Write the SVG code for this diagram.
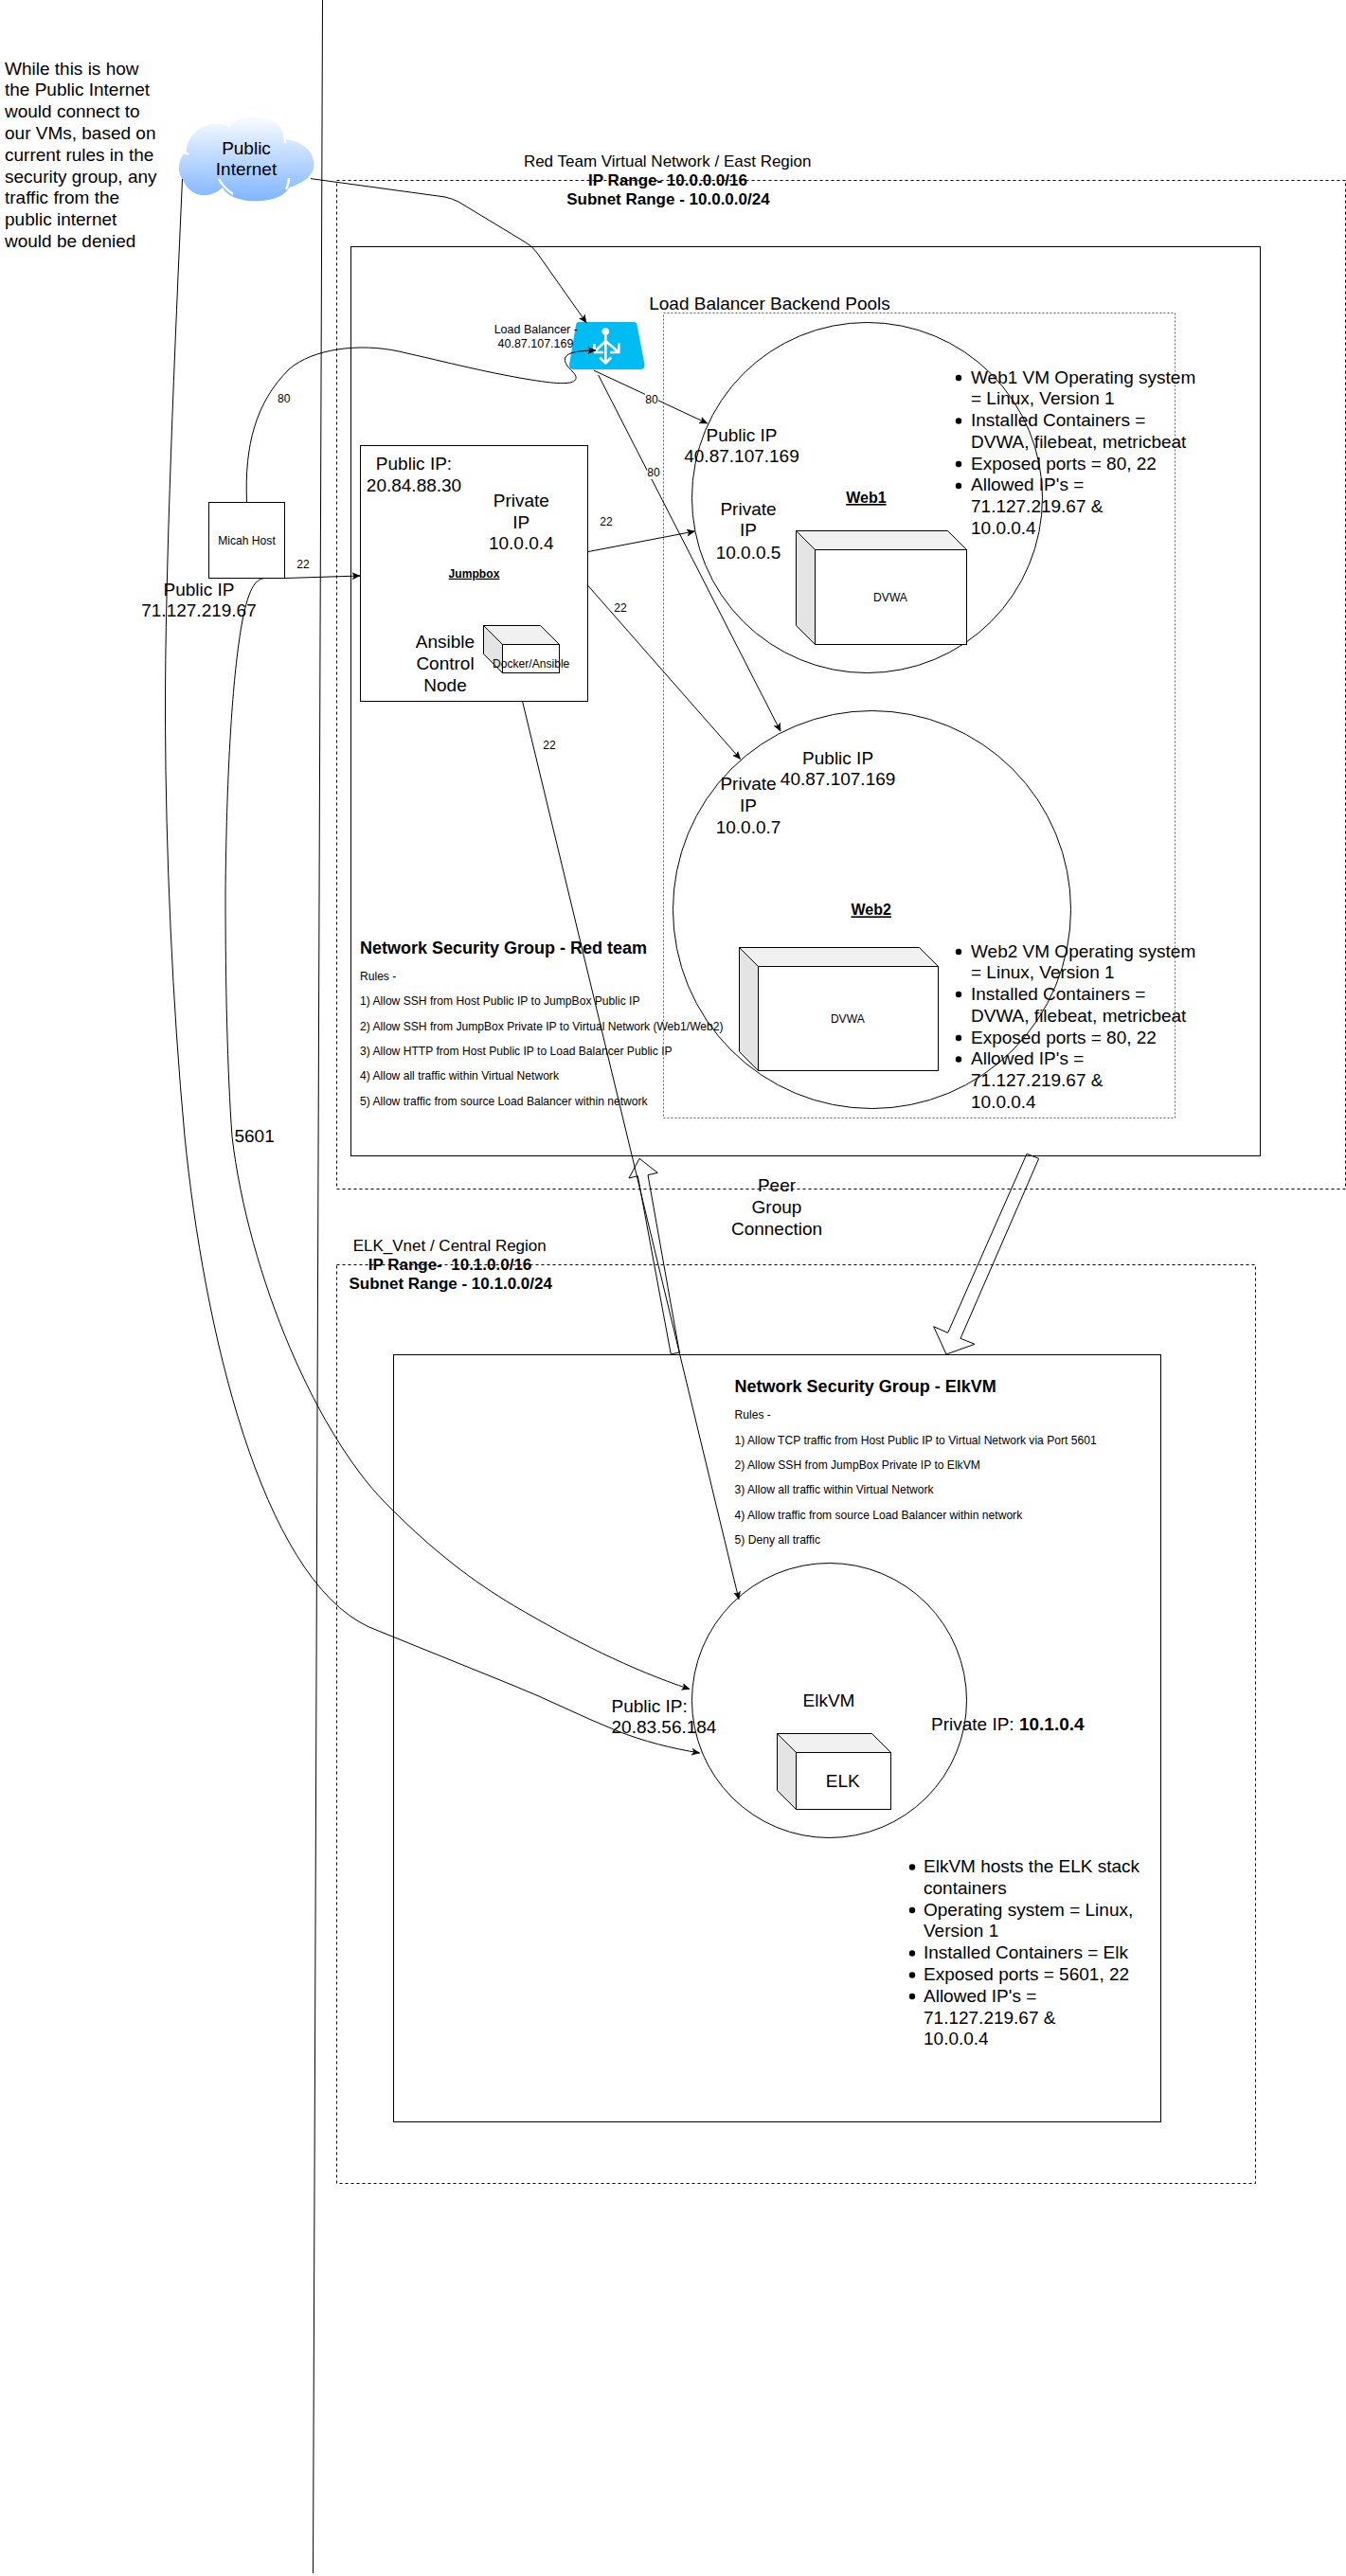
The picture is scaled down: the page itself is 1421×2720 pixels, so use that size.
<svg xmlns="http://www.w3.org/2000/svg" width="1421" height="2720" viewBox="0 0 1421 2720">
<style>
text{font-family:"Liberation Sans",Arial,sans-serif;fill:#000;white-space:pre}
.t19{font-size:19px}.t17{font-size:17px}.t12{font-size:12.1px}.t125{font-size:12.5px}.c{text-anchor:middle}
.b{font-weight:bold}.u{text-decoration:underline}.h18{font-size:18px;font-weight:bold}.h16{font-size:16px;font-weight:bold;text-decoration:underline}
.box{fill:none;stroke:#000;stroke-width:1}
.dash{fill:none;stroke:#000;stroke-width:1;stroke-dasharray:3 3}
.pool{fill:none;stroke:#666;stroke-width:1;stroke-dasharray:2 2}
.ln{fill:none;stroke:#000;stroke-width:1}
.arr{marker-end:url(#a)}
.front{fill:#fff;stroke:#000}.top{fill:#f1f1f1;stroke:#000}.side{fill:#e4e4e4;stroke:#000}
.ic{fill:none;stroke:#fff;stroke-width:2.6}
.nt{fill:none;stroke:#fff;stroke-width:2.4}
</style>
<defs>
<marker id="a" markerUnits="userSpaceOnUse" markerWidth="9" markerHeight="8" refX="8" refY="4" orient="auto"><path d="M0 .5L8 4L0 7.5L2 4Z" fill="#000" stroke="#000" stroke-width=".5"/></marker>
<linearGradient id="g" gradientUnits="userSpaceOnUse" x1="0" y1="122" x2="0" y2="212"><stop offset="0" stop-color="#fbfdff"/><stop offset="1" stop-color="#7fb5ff"/></linearGradient>
</defs>
<rect width="1421" height="2720" fill="#fff"/>

<g id="red-vnet"><rect class="dash" x="355.500" y="190.500" width="1065" height="1065"/>
<text class="t17 c" x="704.700" y="176">Red Team Virtual Network / East Region</text>
<text class="t17 c b" x="705" y="196">IP Range- 10.0.0.0/16</text>
<text class="t17 c b" x="705.400" y="215.700">Subnet Range - 10.0.0.0/24</text></g>

<g id="red-nsg"><rect class="box" x="370.500" y="260.500" width="960" height="960"/>
<text class="h18" x="380" y="1007">Network Security Group - Red team</text>
<text class="t12" x="380" y="1035">Rules -</text>
<text class="t12" x="380" y="1061">1) Allow SSH from Host Public IP to JumpBox Public IP</text>
<text class="t12" x="380" y="1088">2) Allow SSH from JumpBox Private IP to Virtual Network (Web1/Web2)</text>
<text class="t12" x="380" y="1114">3) Allow HTTP from Host Public IP to Load Balancer Public IP</text>
<text class="t12" x="380" y="1140">4) Allow all traffic within Virtual Network</text>
<text class="t12" x="380" y="1167">5) Allow traffic from source Load Balancer within network</text></g>

<g id="backend-pool"><rect class="pool" x="700.500" y="330.500" width="540" height="850"/>
<text class="t19 c" x="812.500" y="327">Load Balancer Backend Pools</text></g>

<g id="elk-vnet"><rect class="dash" x="355.500" y="1335.500" width="970" height="970"/>
<text class="t17 c" x="474.700" y="1321.400">ELK_Vnet / Central Region</text>
<text class="t17 c b" x="475" y="1341">IP Range-  10.1.0.0/16</text>
<text class="t17 c b" x="475.700" y="1360.700">Subnet Range - 10.1.0.0/24</text></g>

<g id="elk-nsg"><rect class="box" x="415.500" y="1430.500" width="810" height="810"/>
<text class="h18" x="775.600" y="1470">Network Security Group - ElkVM</text>
<text class="t12" x="775.600" y="1498">Rules -</text>
<text class="t12" x="775.600" y="1524.500">1) Allow TCP traffic from Host Public IP to Virtual Network via Port 5601</text>
<text class="t12" x="775.600" y="1551">2) Allow SSH from JumpBox Private IP to ElkVM</text>
<text class="t12" x="775.600" y="1577">3) Allow all traffic within Virtual Network</text>
<text class="t12" x="775.600" y="1603.500">4) Allow traffic from source Load Balancer within network</text>
<text class="t12" x="775.600" y="1630">5) Deny all traffic</text></g>

<g id="note"><text class="t19" x="5" y="78.500">While this is how</text>
<text class="t19" x="5" y="101.300">the Public Internet</text>
<text class="t19" x="5" y="124.100">would connect to</text>
<text class="t19" x="5" y="146.900">our VMs, based on</text>
<text class="t19" x="5" y="169.700">current rules in the</text>
<text class="t19" x="5" y="192.500">security group, any</text>
<text class="t19" x="5" y="215.300">traffic from the</text>
<text class="t19" x="5" y="238.100">public internet</text>
<text class="t19" x="5" y="260.900">would be denied</text></g>

<g id="public-internet">
<path d="M193 190C187 183 187 168 197 160C196 140 222 124 242 133C255 118 290 120 298 138Q300 142 300 147C322 149 334 163 331 178C328 188 318 194 305 198C298 216 245 218 235 198C222 210 202 210 193 190Z" fill="url(#g)"/>
<path class="nt" d="M191 158Q195 162 199 163M235 130Q240 131 243 134M300 142Q301 146 301 151M231 189Q236 198 246 205M305 188Q305 194 302 200"/>
<text class="t19 c" x="260" y="162.500">Public</text><text class="t19 c" x="260" y="184.500">Internet</text></g>

<g id="micah-host"><rect class="box" x="220.500" y="530.500" width="80" height="80"/>
<text class="t12 c" x="260.500" y="575">Micah Host</text>
<text class="t19 c" x="210" y="629">Public IP</text><text class="t19 c" x="210" y="651">71.127.219.67</text></g>

<g id="load-balancer">
<path d="M611 340H669Q672 340 672.500 343L680.500 385Q681 390 676 390H606Q600.500 390 601 385L608 343Q608.500 340 611 340Z" fill="#00bcf2"/>
<circle cx="639.300" cy="350" r="3.800" fill="#fff"/>
<path class="ic" d="M639.300 350V383M633.300 377.500L639.300 383.500L645.300 377.500M639.300 360L627 372M639.300 360L653.300 372M644 372H653.300V362.500M627 372H637M627.500 363V372"/>
<text class="t125 c" x="565.800" y="351.700">Load Balancer -</text><text class="t125 c" x="565.500" y="366.700">40.87.107.169</text></g>

<g id="jumpbox"><rect class="box" x="380.500" y="470.500" width="240" height="270"/>
<text class="t19 c" x="437" y="496">Public IP:</text><text class="t19 c" x="437" y="518.500">20.84.88.30</text>
<text class="t19 c" x="550.300" y="534.700">Private</text><text class="t19 c" x="550.300" y="557.500">IP</text><text class="t19 c" x="550.300" y="580">10.0.0.4</text>
<text class="t12 c b u" x="500.500" y="609.800">Jumpbox</text>
<text class="t19 c" x="470" y="683.500">Ansible</text><text class="t19 c" x="470" y="706.500">Control</text><text class="t19 c" x="470" y="729.500">Node</text>
<path class="top" d="M510.500 660.500H570.500L590.500 680.500H530.500Z"/><path class="side" d="M510.500 660.500L530.500 680.500V710.500L510.500 690.500Z"/><rect class="front" x="530.500" y="680.500" width="60" height="30"/>
<text class="t12 c" x="560.700" y="704.800">Docker/Ansible</text></g>

<g id="web1"><circle class="box" cx="915.500" cy="525.500" r="185"/>
<text class="t19 c" x="783" y="465.600">Public IP</text><text class="t19 c" x="783" y="488">40.87.107.169</text>
<text class="t19 c" x="790" y="543.600">Private</text><text class="t19 c" x="790" y="566.400">IP</text><text class="t19 c" x="790" y="589.500">10.0.0.5</text>
<text class="h16 c" x="914.400" y="531">Web1</text>
<path class="top" d="M840.500 560.500H1000.500L1020.500 580.500H860.500Z"/><path class="side" d="M840.500 560.500L860.500 580.500V680.500L840.500 660.500Z"/><rect class="front" x="860.500" y="580.500" width="160" height="100"/>
<text class="t12 c" x="940" y="635">DVWA</text>
<g fill="#000"><circle cx="1012" cy="399" r="3.200"/><circle cx="1012" cy="444.500" r="3.200"/><circle cx="1012" cy="490" r="3.200"/><circle cx="1012" cy="513" r="3.200"/></g>
<text class="t19" x="1025" y="404.500">Web1 VM Operating system</text>
<text class="t19" x="1025" y="427.300">= Linux, Version 1</text>
<text class="t19" x="1025" y="450">Installed Containers =</text>
<text class="t19" x="1025" y="472.800">DVWA, filebeat, metricbeat</text>
<text class="t19" x="1025" y="495.600">Exposed ports = 80, 22</text>
<text class="t19" x="1025" y="518.400">Allowed IP's =</text>
<text class="t19" x="1025" y="541.200">71.127.219.67 &amp;</text>
<text class="t19" x="1025" y="563.500">10.0.0.4</text></g>

<g id="web2"><circle class="box" cx="920.500" cy="960.500" r="210"/>
<text class="t19 c" x="884.600" y="807">Public IP</text><text class="t19 c" x="884.600" y="829">40.87.107.169</text>
<text class="t19 c" x="790" y="834.300">Private</text><text class="t19 c" x="790" y="857">IP</text><text class="t19 c" x="790" y="880">10.0.0.7</text>
<text class="h16 c" x="919.700" y="966.400">Web2</text>
<path class="top" d="M780.500 1000.500H970.500L990.500 1020.500H800.500Z"/><path class="side" d="M780.500 1000.500L800.500 1020.500V1130.500L780.500 1110.500Z"/><rect class="front" x="800.500" y="1020.500" width="190" height="110"/>
<text class="t12 c" x="894.800" y="1080">DVWA</text>
<g fill="#000"><circle cx="1012" cy="1005" r="3.200"/><circle cx="1012" cy="1050" r="3.200"/><circle cx="1012" cy="1096" r="3.200"/><circle cx="1012" cy="1118.500" r="3.200"/></g>
<text class="t19" x="1025" y="1010.600">Web2 VM Operating system</text>
<text class="t19" x="1025" y="1033.400">= Linux, Version 1</text>
<text class="t19" x="1025" y="1056">Installed Containers =</text>
<text class="t19" x="1025" y="1078.800">DVWA, filebeat, metricbeat</text>
<text class="t19" x="1025" y="1101.600">Exposed ports = 80, 22</text>
<text class="t19" x="1025" y="1124.400">Allowed IP's =</text>
<text class="t19" x="1025" y="1147.200">71.127.219.67 &amp;</text>
<text class="t19" x="1025" y="1169.500">10.0.0.4</text></g>

<g id="elkvm"><circle class="box" cx="875.500" cy="1795.500" r="145"/>
<text class="t19 c" x="875" y="1801.800">ElkVM</text>
<path class="top" d="M820.500 1830.500H920.500L940.500 1850.500H840.500Z"/><path class="side" d="M820.500 1830.500L840.500 1850.500V1910.500L820.500 1890.500Z"/><rect class="front" x="840.500" y="1850.500" width="100" height="60"/>
<text class="t19 c" x="889.700" y="1887">ELK</text>
<text class="t19" x="645.500" y="1807.500">Public IP:</text><text class="t19" x="645.500" y="1830">20.83.56.184</text>
<text class="t19" x="983" y="1827">Private IP: <tspan class="b">10.1.0.4</tspan></text>
<g fill="#000"><circle cx="963" cy="1971.500" r="3.200"/><circle cx="963" cy="2017" r="3.200"/><circle cx="963" cy="2062.500" r="3.200"/><circle cx="963" cy="2085.500" r="3.200"/><circle cx="963" cy="2108" r="3.200"/></g>
<text class="t19" x="975" y="1977">ElkVM hosts the ELK stack</text>
<text class="t19" x="975" y="2000">containers</text>
<text class="t19" x="975" y="2023">Operating system = Linux,</text>
<text class="t19" x="975" y="2045">Version 1</text>
<text class="t19" x="975" y="2068">Installed Containers = Elk</text>
<text class="t19" x="975" y="2091">Exposed ports = 5601, 22</text>
<text class="t19" x="975" y="2114">Allowed IP's =</text>
<text class="t19" x="975" y="2137">71.127.219.67 &amp;</text>
<text class="t19" x="975" y="2159">10.0.0.4</text></g>

<g id="peer-group-label"><text class="t19 c" x="820" y="1258">Peer</text><text class="t19 c" x="820" y="1281">Group</text><text class="t19 c" x="820" y="1304">Connection</text></g>

<g id="connectors">
<path class="ln" d="M340.500 0L330.500 2717"/>
<path class="ln arr" d="M328 188.600L470 208Q478 210 484 213L555 256Q562 260 567 267L619 340.700"/>
<path class="ln arr" d="M260.500 530C258 470 270 425 305 390C330 368 380 362 421 371C470 382 520 395 566.700 402C580 404 590 405 597 404.500C610 404 610 398 605 393C598 386 595 382 597 377C600 372 612 370 629 370"/>
<path class="ln arr" d="M626.700 391L746.700 447"/>
<path class="ln arr" d="M631.700 396L824 772"/>
<path class="ln arr" d="M300.500 610.500L380 608"/>
<path class="ln arr" d="M620.500 582.600L733.400 561"/>
<path class="ln arr" d="M620 617.500L781.600 801.500"/>
<path class="ln arr" d="M551.700 741L780 1688.700"/>
<path class="ln arr" d="M278 610.700C266 612 258 635 252 680C245 730 239 820 238 944C238 1040 240 1130 245 1200C262 1345 335 1520 415 1595C458 1638 499.700 1670 542.700 1695.500C604.700 1732 666 1763 728 1783.500"/>
<path class="ln arr" d="M192.500 189C185 360 174 600 174.500 760C175 900 182 1060 195 1200C215 1400 275 1665 389.600 1718C440.600 1739 491.700 1759 542.700 1780C578 1794 614 1812.600 650 1827C680 1839 709 1846 738.600 1851"/>
<path class="ln" d="M675 1223.300L694.300 1238.300L684 1240.700L717.300 1428L708.300 1430L673.300 1241.700L664 1244Z"/>
<path class="ln" d="M1096.700 1223.300L1084 1218.300L1000.700 1407.300L985.700 1400.700L999 1430L1029 1419.300L1014 1413.300Z"/>
<g id="connector-labels">
<text class="t12 c" x="320" y="600">22</text>
<text class="t12 c" x="299.800" y="425">80</text>
<rect x="681" y="414" width="14" height="14" fill="#fff"/><text class="t12 c" x="688" y="425.500">80</text>
<rect x="683" y="492" width="14" height="14" fill="#fff"/><text class="t12 c" x="690" y="503">80</text>
<text class="t12 c" x="640" y="555">22</text>
<text class="t12 c" x="655" y="645.500">22</text>
<text class="t12 c" x="580" y="790.500">22</text>
<text class="t19 c" x="268.600" y="1206">5601</text>
</g></g>
</svg>
